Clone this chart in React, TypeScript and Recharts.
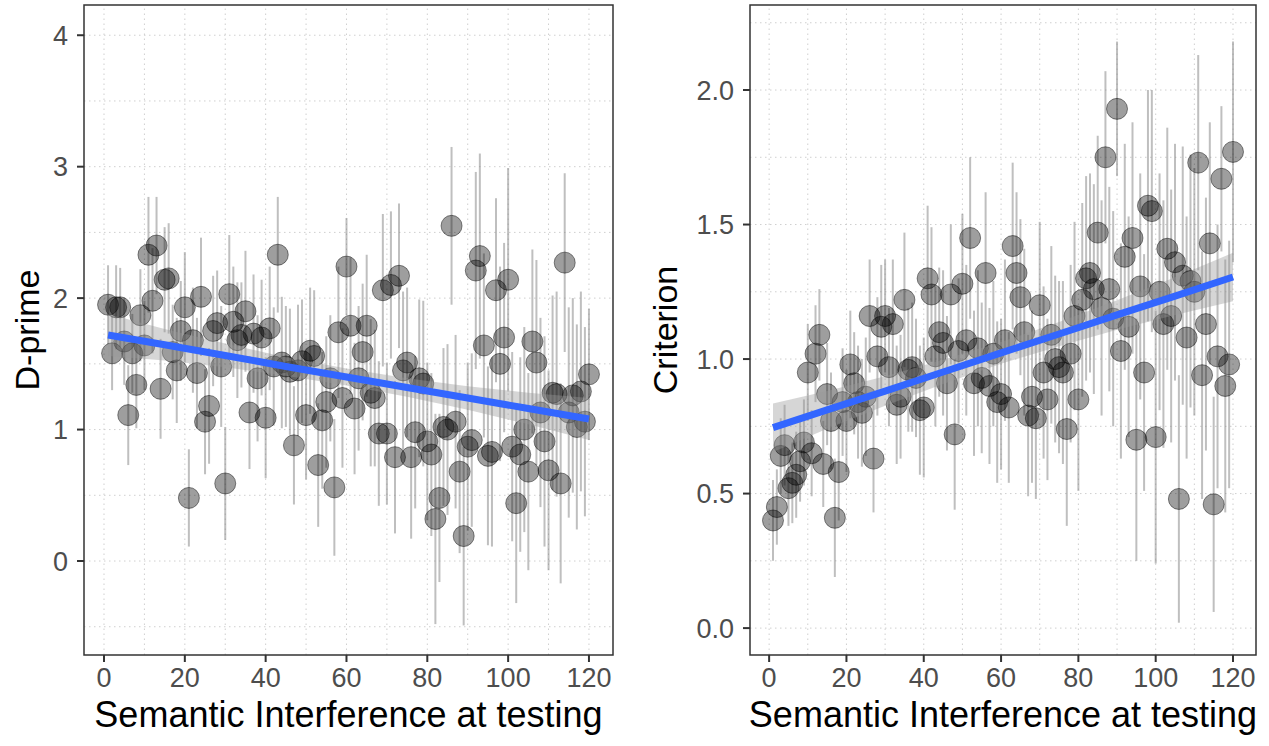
import React from 'react';
import {
  ComposedChart, Scatter, Line, Area, XAxis, YAxis,
  ReferenceLine, ReferenceArea, ErrorBar, Label,
} from 'recharts';

const FONT = '"Liberation Sans", Arial, Helvetica, sans-serif';

// trial index (Semantic Interference at testing)
const trials: number[] = Array.from({ length: 120 }, (_, i) => i + 1);

const dprime: number[] = [
  1.95, 1.58, 1.93, 1.93, 1.67, 1.11, 1.58, 1.34, 1.87, 1.64,
  2.33, 1.98, 2.40, 1.31, 2.14, 2.15, 1.59, 1.45, 1.75, 1.93,
  0.48, 1.68, 1.43, 2.01, 1.06, 1.18, 1.75, 1.81, 1.48, 0.59,
  2.03, 1.82, 1.68, 1.72, 1.90, 1.13, 1.73, 1.39, 1.70, 1.09,
  1.77, 1.48, 2.33, 1.51, 1.48, 1.44, 0.88, 1.45, 1.52, 1.11,
  1.60, 1.56, 0.73, 1.07, 1.21, 1.39, 0.56, 1.74, 1.24, 2.24,
  1.79, 1.16, 1.39, 1.59, 1.79, 1.28, 1.24, 0.97, 2.06, 0.97,
  2.10, 0.79, 2.17, 1.45, 1.51, 0.79, 0.98, 1.39, 1.35, 0.91,
  0.81, 0.32, 0.48, 1.02, 1.00, 2.55, 1.06, 0.68, 0.19, 0.87,
  0.92, 2.21, 2.32, 1.64, 0.80, 0.83, 2.06, 1.50, 1.70, 2.14,
  0.87, 0.44, 0.81, 1.00, 0.68, 1.67, 1.51, 1.13, 0.91, 0.69,
  1.28, 1.27, 0.59, 2.27, 1.13, 1.26, 1.02, 1.29, 1.06, 1.42,
];

const dprimeErr: number[] = [
  0.30, 0.28, 0.32, 0.30, 0.33, 0.38, 0.30, 0.33, 0.35, 0.34,
  0.44, 0.40, 0.37, 0.38, 0.40, 0.42, 0.36, 0.40, 0.38, 0.42,
  0.37, 0.40, 0.42, 0.45, 0.40, 0.44, 0.42, 0.40, 0.46, 0.43,
  0.45, 0.42, 0.44, 0.40, 0.46, 0.43, 0.45, 0.48, 0.44, 0.46,
  0.47, 0.45, 0.44, 0.50, 0.46, 0.48, 0.45, 0.50, 0.47, 0.49,
  0.48, 0.50, 0.47, 0.52, 0.50, 0.48, 0.52, 0.50, 0.53, 0.37,
  0.52, 0.50, 0.55, 0.52, 0.54, 0.56, 0.52, 0.55, 0.58, 0.54,
  0.56, 0.58, 0.55, 0.60, 0.57, 0.62, 0.58, 0.60, 0.63, 0.60,
  0.62, 0.80, 0.64, 0.60, 0.65, 0.60, 0.66, 0.62, 0.68, 0.64,
  0.66, 0.75, 0.78, 0.70, 0.68, 0.72, 0.70, 0.74, 0.72, 0.85,
  0.72, 0.76, 0.74, 0.78, 0.75, 0.70, 0.78, 0.72, 0.80, 0.76,
  0.74, 0.78, 0.76, 0.68, 0.80, 0.74, 0.78, 0.76, 0.72, 0.50,
];

const criterion: number[] = [
  0.40, 0.45, 0.64, 0.68, 0.52, 0.54, 0.57, 0.62, 0.69, 0.95,
  0.65, 1.02, 1.09, 0.61, 0.87, 0.77, 0.41, 0.58, 0.84, 0.77,
  0.98, 0.91, 0.84, 0.80, 0.86, 1.16, 0.63, 1.01, 1.12, 1.16,
  0.97, 1.13, 0.83, 0.86, 1.22, 0.96, 0.97, 0.93, 0.81, 0.82,
  1.30, 1.24, 1.01, 1.10, 1.06, 0.91, 1.24, 0.72, 1.03, 1.28,
  1.07, 1.45, 0.91, 1.04, 0.93, 1.32, 0.90, 1.02, 0.84, 0.87,
  1.07, 0.82, 1.42, 1.32, 1.23, 1.10, 0.79, 0.86, 0.78, 1.20,
  0.95, 0.85, 1.09, 1.00, 0.97, 0.95, 0.74, 1.02, 1.16, 0.85,
  1.22, 1.30, 1.32, 1.26, 1.47, 1.19, 1.75, 1.26, 1.15, 1.93,
  1.03, 1.38, 1.12, 1.45, 0.70, 1.27, 0.95, 1.57, 1.55, 0.71,
  1.25, 1.13, 1.41, 1.16, 1.36, 0.48, 1.31, 1.08, 1.29, 1.25,
  1.73, 0.94, 1.13, 1.43, 0.46, 1.01, 1.67, 0.90, 0.98, 1.77,
];

const criterionErr: number[] = [
  0.15, 0.14, 0.14, 0.15, 0.14, 0.15, 0.16, 0.15, 0.16, 0.18,
  0.16, 0.18, 0.17, 0.16, 0.19, 0.18, 0.22, 0.18, 0.20, 0.19,
  0.20, 0.19, 0.21, 0.20, 0.22, 0.21, 0.20, 0.22, 0.23, 0.21,
  0.22, 0.24, 0.22, 0.23, 0.25, 0.23, 0.24, 0.22, 0.24, 0.26,
  0.27, 0.25, 0.26, 0.24, 0.27, 0.25, 0.26, 0.28, 0.27, 0.26,
  0.28, 0.30, 0.27, 0.29, 0.28, 0.30, 0.29, 0.27, 0.30, 0.28,
  0.30, 0.28, 0.31, 0.30, 0.29, 0.31, 0.30, 0.32, 0.30, 0.31,
  0.32, 0.30, 0.33, 0.31, 0.32, 0.34, 0.36, 0.33, 0.35, 0.34,
  0.36, 0.38, 0.37, 0.39, 0.36, 0.40, 0.32, 0.38, 0.40, 0.25,
  0.40, 0.42, 0.41, 0.43, 0.45, 0.42, 0.44, 0.43, 0.45, 0.47,
  0.44, 0.46, 0.45, 0.47, 0.44, 0.46, 0.48, 0.45, 0.47, 0.46,
  0.40, 0.46, 0.47, 0.45, 0.40, 0.49, 0.27, 0.47, 0.46, 0.41,
];

// fitted regression line and its confidence band, read at these x positions
const fitX: number[] = [1, 15, 30, 45, 60, 75, 90, 105, 120];
const dprimeFit: number[] = [1.72, 1.645, 1.564, 1.48, 1.40, 1.32, 1.24, 1.16, 1.08];
const dprimeLo: number[] = [1.56, 1.525, 1.474, 1.41, 1.335, 1.25, 1.15, 1.04, 0.92];
const dprimeHi: number[] = [1.88, 1.765, 1.654, 1.55, 1.465, 1.39, 1.33, 1.28, 1.24];
const critFit: number[] = [0.745, 0.811, 0.881, 0.952, 1.023, 1.093, 1.164, 1.234, 1.305];
const critLo: number[] = [0.655, 0.741, 0.826, 0.907, 0.983, 1.048, 1.109, 1.164, 1.215];
const critHi: number[] = [0.835, 0.881, 0.936, 0.997, 1.063, 1.138, 1.219, 1.304, 1.395];

const X_DOMAIN: [number, number] = [-4.95, 125.95];
const X_TICKS: number[] = [0, 20, 40, 60, 80, 100, 120];
const X_MINOR: number[] = [10, 30, 50, 70, 90, 110];

const D_DOMAIN: [number, number] = [-0.715, 4.23];
const D_TICKS: number[] = [0, 1, 2, 3, 4];
const D_MINOR: number[] = [-0.5, 0.5, 1.5, 2.5, 3.5];

const C_DOMAIN: [number, number] = [-0.1, 2.316];
const C_TICKS: number[] = [0, 0.5, 1.0, 1.5, 2.0];
const C_MINOR: number[] = [0.25, 0.75, 1.25, 1.75, 2.25];

const Dot = (p: any) => (
  <circle cx={p.cx} cy={p.cy} r={10.5} fill="#000" fillOpacity={0.38}
    stroke="#000" strokeOpacity={0.45} strokeWidth={1} />
);

type PanelProps = {
  left: number; width: number; yAxisWidth: number; marginRight: number;
  yDomain: [number, number]; yTicks: number[]; yMinor: number[];
  yFmt: (v: number) => string; yTitle: string; titleOffset: number;
  values: number[]; errs: number[]; fit: number[]; lo: number[]; hi: number[];
};

function Panel(props: PanelProps) {
  const { left, width, yAxisWidth, marginRight, yDomain, yTicks, yMinor, yFmt,
    yTitle, titleOffset, values, errs, fit, lo, hi } = props;
  const pts = trials.map((x, i) => ({ x, y: values[i], err: errs[i] }));
  const fitData = fitX.map((x, i) => ({ x, fit: fit[i], band: [lo[i], hi[i]] }));
  const gridStroke = '#CFCFCF';
  const tickStyle = { fill: '#4D4D4D', fontSize: 27, fontFamily: FONT };
  return (
    <div style={{ position: 'absolute', left, top: 0 }}>
      <ComposedChart width={width} height={746}
        margin={{ top: 5, right: marginRight, bottom: 0, left: 0 }}>
        <XAxis type="number" dataKey="x" domain={X_DOMAIN} ticks={X_TICKS}
          allowDataOverflow axisLine={false} interval={0}
          tickLine={{ stroke: '#333', strokeWidth: 2 }} tickSize={7} tickMargin={6}
          height={91} tick={tickStyle}>
          <Label value="Semantic Interference at testing" position="insideBottom"
            offset={19} style={{ fontSize: 36, fill: '#000', fontFamily: FONT }} />
        </XAxis>
        <YAxis type="number" dataKey="y" domain={yDomain} ticks={yTicks}
          allowDataOverflow axisLine={false} interval={0} tickFormatter={yFmt}
          tickLine={{ stroke: '#333', strokeWidth: 2 }} tickSize={7} tickMargin={9}
          width={yAxisWidth} tick={tickStyle}>
          <Label value={yTitle} angle={-90} position="insideLeft" offset={titleOffset}
            style={{ fontSize: 34, fill: '#000', fontFamily: FONT, textAnchor: 'middle' }} />
        </YAxis>
        {[...X_TICKS, ...X_MINOR].map((v) => (
          <ReferenceLine key={'vx' + v} x={v} stroke={gridStroke} strokeWidth={1}
            strokeDasharray="1.5 3.5" />
        ))}
        {[...yTicks, ...yMinor].map((v) => (
          <ReferenceLine key={'hy' + v} y={v} stroke={gridStroke} strokeWidth={1}
            strokeDasharray="1.5 3.5" />
        ))}
        <Scatter data={pts} dataKey="y" shape={Dot} isAnimationActive={false}>
          <ErrorBar dataKey="err" direction="y" width={0} stroke="#808080"
            strokeWidth={2} strokeOpacity={0.5} />
        </Scatter>
        <Area data={fitData} dataKey="band" type="linear" stroke="none"
          fill="#999999" fillOpacity={0.4} isAnimationActive={false} zIndex={900} />
        <Line data={fitData} dataKey="fit" type="linear" stroke="#3366FF"
          strokeWidth={7} dot={false} activeDot={false} isAnimationActive={false}
          zIndex={1000} />
        <ReferenceArea x1={X_DOMAIN[0]} x2={X_DOMAIN[1]} y1={yDomain[0]} y2={yDomain[1]}
          ifOverflow="visible" fill="none" fillOpacity={0} stroke="#333"
          strokeWidth={1.5} zIndex={1100} />
      </ComposedChart>
    </div>
  );
}

export default function App() {
  return (
    <div style={{ position: 'absolute', left: 0, top: 0, width: 1269, height: 746, background: '#fff' }}>
      <Panel left={0} width={620} yAxisWidth={84} marginRight={7}
        yDomain={D_DOMAIN} yTicks={D_TICKS} yMinor={D_MINOR}
        yFmt={(v) => String(v)} yTitle="D-prime" titleOffset={27}
        values={dprime} errs={dprimeErr} fit={dprimeFit} lo={dprimeLo} hi={dprimeHi} />
      <Panel left={630} width={639} yAxisWidth={120} marginRight={13}
        yDomain={C_DOMAIN} yTicks={C_TICKS} yMinor={C_MINOR}
        yFmt={(v) => v.toFixed(1)} yTitle="Criterion" titleOffset={35}
        values={criterion} errs={criterionErr} fit={critFit} lo={critLo} hi={critHi} />
    </div>
  );
}
